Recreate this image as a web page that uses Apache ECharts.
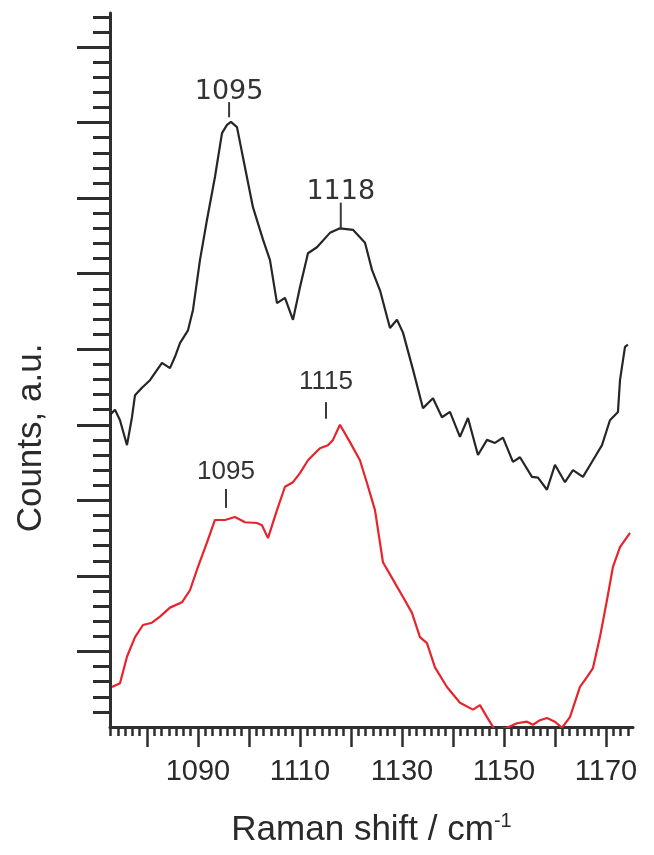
<!DOCTYPE html>
<html>
<head>
<meta charset="utf-8">
<script src="https://cdn.jsdelivr.net/npm/echarts@6/dist/echarts.min.js"></script>
<style>
  html, body { margin: 0; padding: 0; background: #fff; }
  #chart { width: 654px; height: 855px; }
</style>
</head>
<body>
<div id="chart"></div>
<script>
// ---- data (Raman shift / cm-1, counts a.u.) ----
const blackX = [1072.75,1073.73,1074.71,1076.08,1077.06,1077.65,1079.02,1080.59,1082.94,1084.51,1085.49,1086.47,1088.04,1089.02,1090.39,1091.76,1093.33,1094.71,1095.69,1096.47,1097.65,1098.82,1100.78,1102.75,1104.12,1105.49,1107.06,1108.63,1110.00,1111.57,1113.33,1115.88,1117.84,1120.39,1122.75,1124.12,1125.69,1127.65,1129.02,1130.20,1132.16,1134.12,1136.08,1137.84,1139.41,1141.37,1142.94,1144.90,1146.67,1148.24,1149.80,1151.76,1153.14,1155.49,1156.67,1158.43,1160.00,1161.96,1163.53,1165.49,1167.45,1169.22,1170.78,1172.35,1172.75,1173.73,1174.31];
const blackY = [4.13,4.20,4.06,3.73,4.10,4.39,4.49,4.59,4.82,4.75,4.90,5.08,5.25,5.52,6.18,6.71,7.28,7.86,7.97,8.01,7.94,7.54,6.88,6.45,6.18,5.61,5.68,5.39,5.82,6.27,6.35,6.54,6.60,6.58,6.41,6.05,5.78,5.28,5.39,5.22,4.73,4.22,4.35,4.10,4.17,3.84,4.09,3.60,3.80,3.76,3.83,3.51,3.57,3.31,3.30,3.14,3.47,3.24,3.40,3.31,3.53,3.73,4.06,4.17,4.59,5.03,5.06];

const redX = [1073.14,1074.71,1076.08,1077.65,1079.22,1080.98,1082.55,1084.51,1086.86,1088.43,1090.00,1091.76,1093.33,1095.29,1097.25,1099.22,1101.57,1102.55,1103.73,1105.49,1107.06,1108.63,1110.00,1111.57,1113.92,1115.49,1116.47,1117.84,1119.80,1121.76,1123.14,1124.71,1126.27,1128.24,1130.20,1131.96,1133.53,1134.90,1136.47,1138.82,1141.37,1143.92,1145.29,1146.67,1148.24,1150.59,1152.55,1154.51,1155.69,1157.06,1158.43,1160.00,1161.37,1162.94,1164.90,1166.27,1167.45,1168.82,1170.20,1171.37,1172.75,1174.71];
const redY = [0.53,0.58,0.93,1.19,1.35,1.38,1.46,1.58,1.65,1.81,2.12,2.44,2.74,2.74,2.78,2.71,2.70,2.67,2.50,2.87,3.18,3.24,3.36,3.53,3.69,3.73,3.80,4.00,3.77,3.53,3.23,2.87,2.18,1.95,1.72,1.51,1.19,1.11,0.79,0.53,0.32,0.23,0.29,0.13,-0.04,-0.01,0.05,0.07,0.03,0.09,0.12,0.07,-0.01,0.13,0.53,0.66,0.78,1.19,1.68,2.12,2.38,2.57];

// peak annotations (x, tick bottom, tick top, label y, text)
const blackAnnX = [1096.1, 1118.0];
const blackAnnLow = [8.07, 6.60];
const blackAnnHigh = [8.27, 6.94];
const blackAnnTextY = [8.40, 7.08];
const blackAnnText = ['1095', '1118'];

const redAnnX = [1095.5, 1115.1];
const redAnnLow = [2.90, 4.08];
const redAnnHigh = [3.15, 4.30];
const redAnnTextY = [3.38, 4.57];
const redAnnText = ['1095', '1115'];

// axes
const xMin = 1072.75, xMax = 1175.3;
const yMin = 0, yMax = 9.45;
const xLabelValues = [1090, 1110, 1130, 1150, 1170];
const xMajorTicks = [1080, 1090, 1100, 1110, 1120, 1130, 1140, 1150, 1160, 1170];
const xMinorPerMajor = 7;
const yMajorTicks = [1, 2, 3, 4, 5, 6, 7, 8, 9];
const yMinorStep = 0.2;

const xMinorTicks = [];
for (let k = -10; k <= 80; k++) {
  if (k % xMinorPerMajor === 0) continue;
  const v = 1080 + k * 10 / xMinorPerMajor;
  if (v >= xMin && v <= xMax) xMinorTicks.push(+v.toFixed(4));
}
const yMinorTicks = [];
for (let k = 1; k * yMinorStep <= yMax + 1e-9; k++) {
  if (k % 5 === 0) continue;
  yMinorTicks.push(+(k * yMinorStep).toFixed(3));
}

const zip = (a, b) => a.map((v, i) => [v, b[i]]);
const annData = (x, lo, hi, ty) => x.map((v, i) => [v, lo[i], hi[i], ty[i]]);

const AX = '#2e2e2e';
function annRender(texts, font, color) {
  return function (params, api) {
    const x = api.value(0);
    const p1 = api.coord([x, api.value(1)]);
    const p2 = api.coord([x, api.value(2)]);
    const p3 = api.coord([x, api.value(3)]);
    return {
      type: 'group',
      children: [
        { type: 'line', shape: { x1: p1[0], y1: p1[1], x2: p2[0], y2: p2[1] },
          style: { stroke: '#3a3a3a', lineWidth: 2 } },
        { type: 'text', x: p3[0], y: p3[1],
          style: { text: texts[params.dataIndex], font: font, fill: color,
                   align: 'center', verticalAlign: 'middle' } }
      ]
    };
  };
}

const chart = echarts.init(document.getElementById('chart'), null, { renderer: 'canvas' });
chart.setOption({
  animation: false,
  backgroundColor: '#ffffff',
  grid: { left: 110, right: 21, top: 13, bottom: 128 },
  xAxis: [
    {
      type: 'value', position: 'bottom', min: xMin, max: xMax,
      axisLine: { show: true, lineStyle: { color: AX, width: 3 } },
      axisTick: { show: true, inside: false, length: 20, customValues: xMajorTicks,
                  lineStyle: { color: AX, width: 2.5 } },
      axisLabel: { show: true, customValues: xLabelValues, margin: 30,
                   formatter: v => String(v),
                   fontFamily: 'Liberation Sans', fontSize: 29, color: '#2a2a2a' },
      splitLine: { show: false },
      name: 'Raman shift / cm{sup|-1}',
      nameLocation: 'middle', nameGap: 84,
      nameTextStyle: {
        fontFamily: 'Liberation Sans', fontSize: 35, color: '#2a2a2a', lineHeight: 38,
        rich: { sup: { fontFamily: 'Liberation Sans', fontSize: 20, color: '#2a2a2a',
                       verticalAlign: 'top', lineHeight: 20 } }
      }
    },
    {
      type: 'value', position: 'bottom', min: xMin, max: xMax,
      axisLine: { show: false },
      axisTick: { show: true, inside: false, length: 9, customValues: xMinorTicks,
                  lineStyle: { color: AX, width: 2.5 } },
      axisLabel: { show: false },
      splitLine: { show: false }
    }
  ],
  yAxis: [
    {
      type: 'value', position: 'left', min: yMin, max: yMax,
      axisLine: { show: true, lineStyle: { color: AX, width: 3 } },
      axisTick: { show: true, inside: false, length: 33, customValues: yMajorTicks,
                  lineStyle: { color: AX, width: 3 } },
      axisLabel: { show: false },
      splitLine: { show: false }
    },
    {
      type: 'value', position: 'left', min: yMin, max: yMax,
      axisLine: { show: false },
      axisTick: { show: true, inside: false, length: 17, customValues: yMinorTicks,
                  lineStyle: { color: AX, width: 3 } },
      axisLabel: { show: false },
      splitLine: { show: false }
    }
  ],
  graphic: [
    { type: 'text', x: 31, y: 438, rotation: Math.PI / 2,
      style: { text: 'Counts, a.u.', font: '35px "Liberation Sans"', fill: '#2a2a2a',
               align: 'center', verticalAlign: 'middle' } }
  ],
  series: [
    {
      type: 'line', xAxisIndex: 0, yAxisIndex: 0,
      data: zip(blackX, blackY), showSymbol: false, symbol: 'none',
      lineStyle: { color: '#262626', width: 2.2 }, clip: true, z: 3
    },
    {
      type: 'line', xAxisIndex: 0, yAxisIndex: 0,
      data: zip(redX, redY), showSymbol: false, symbol: 'none',
      lineStyle: { color: '#e8232b', width: 2.2 }, clip: true, z: 3
    },
    {
      type: 'custom', xAxisIndex: 0, yAxisIndex: 0,
      data: annData(blackAnnX, blackAnnLow, blackAnnHigh, blackAnnTextY),
      renderItem: annRender(blackAnnText, '27px "DejaVu Sans"', '#333333'), z: 4
    },
    {
      type: 'custom', xAxisIndex: 0, yAxisIndex: 0,
      data: annData(redAnnX, redAnnLow, redAnnHigh, redAnnTextY),
      renderItem: annRender(redAnnText, '26px "Liberation Sans"', '#333333'), z: 4
    }
  ]
});
</script>
</body>
</html>
